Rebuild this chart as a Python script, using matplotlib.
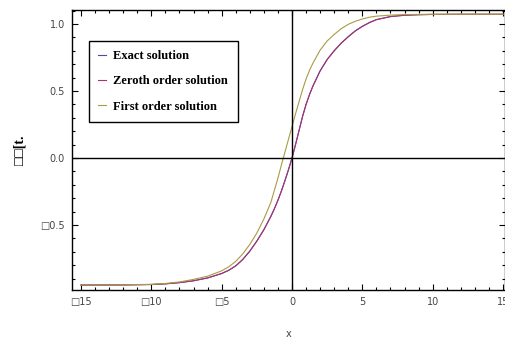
import matplotlib
matplotlib.use('Agg')
import matplotlib.pyplot as plt
from matplotlib.ticker import MultipleLocator

# values
x_vals = [-15, -12, -10, -9, -8, -7, -6, -5, -4.5, -4, -3.5, -3, -2.5, -2,
          -1.5, -1.25, -1, -0.75, -0.5, -0.25, 0, 0.25, 0.5, 0.75, 1, 1.25,
          1.5, 2, 2.5, 3, 3.5, 4, 4.5, 5, 5.5, 6, 7, 8, 9, 10, 12, 15]
exact = [-0.948, -0.947, -0.944, -0.939, -0.930, -0.916, -0.895, -0.862,
         -0.838, -0.805, -0.757, -0.695, -0.620, -0.535, -0.435, -0.378,
         -0.315, -0.245, -0.168, -0.087, 0.0, 0.10, 0.205, 0.31, 0.40,
         0.475, 0.54, 0.65, 0.735, 0.80, 0.857, 0.905, 0.948, 0.982, 1.01,
         1.032, 1.055, 1.065, 1.069, 1.071, 1.072, 1.072]
zeroth = list(exact)
first = [-0.948, -0.946, -0.943, -0.936, -0.925, -0.906, -0.882, -0.842,
         -0.812, -0.772, -0.715, -0.645, -0.56, -0.455, -0.33, -0.24, -0.15,
         -0.05, 0.045, 0.14, 0.235, 0.33, 0.42, 0.51, 0.59, 0.655, 0.71,
         0.805, 0.873, 0.922, 0.965, 0.997, 1.02, 1.037, 1.05, 1.058, 1.066,
         1.07, 1.071, 1.072, 1.072, 1.072]

labels = ['Exact solution', 'Zeroth order solution', 'First order solution']
colors = ['#4a4aa0', '#a8336e', '#a89b45']

xticks = [-15, -10, -5, 0, 5, 10, 15]
xticklabels = ['\u25a115', '\u25a110', '\u25a15', '0', '5', '10', '15']
yticks = [-0.5, 0.0, 0.5, 1.0]
yticklabels = ['\u25a10.5', '0.0', '0.5', '1.0']

W, H = 506, 341
fig = plt.figure(figsize=(W / 100, H / 100), dpi=100)
ax = fig.add_axes([72 / W, (H - 290) / H, 433 / W, 280 / H])

for ys, lab, c in zip([exact, zeroth, first], labels, colors):
    ax.plot(x_vals, ys, color=c, lw=0.8, label=lab)

ax.axhline(0, color='black', lw=1.0, zorder=3)
ax.axvline(0, color='black', lw=1.0, zorder=3)

ax.set_xlim(-15.64, 15.14)
ax.set_ylim(-0.985, 1.104)

ax.set_xticks(xticks)
ax.set_xticklabels(xticklabels)
ax.set_yticks(yticks)
ax.set_yticklabels(yticklabels)
ax.xaxis.set_minor_locator(MultipleLocator(1))
ax.yaxis.set_minor_locator(MultipleLocator(0.1))
ax.tick_params(which='both', direction='in', top=True, right=True,
               labelsize=7, labelcolor='#444444', width=0.8)
ax.tick_params(which='major', length=4, pad=5)
ax.tick_params(which='minor', length=2)
for s in ax.spines.values():
    s.set_linewidth(1.0)

ax.set_xlabel('x', fontsize=7, color='#444444', labelpad=16)
ax.set_ylabel('\u25a1\u25a1[t.', fontsize=10, family='Liberation Serif',
              fontweight='bold', labelpad=10)

leg = ax.legend(loc='upper left', bbox_to_anchor=(17 / 433, 1 - 31 / 280),
                prop={'family': 'Liberation Serif', 'size': 9, 'weight': 'bold'},
                handlelength=0.6, handletextpad=0.6, labelspacing=1.05,
                borderpad=0.75, fancybox=False, edgecolor='black',
                framealpha=1, borderaxespad=0)
leg.get_frame().set_linewidth(1.0)

fig.savefig('out.png', dpi=100)
